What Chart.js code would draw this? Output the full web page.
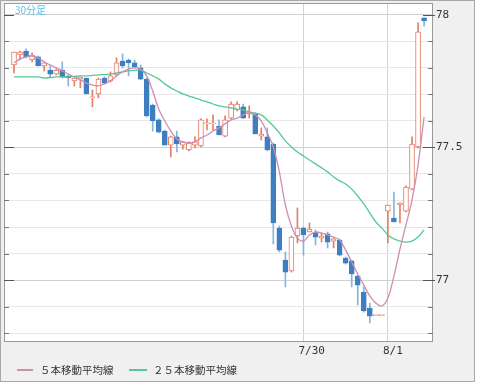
<!DOCTYPE html>
<html><head><meta charset="utf-8">
<script src="https://cdn.jsdelivr.net/npm/chart.js@4.4.0/dist/chart.umd.min.js"></script>
<style>html,body{margin:0;padding:0;background:#fff}canvas{display:block}</style>
</head><body>
<canvas id="c" width="478" height="384"></canvas>
<script>
// 30-minute candles (USD/JPY style), index 0..68
const openP = [77.811,77.849,77.864,77.830,77.842,77.808,77.792,77.777,77.792,77.770,
77.751,77.758,77.762,77.687,77.702,77.762,77.751,77.774,77.826,77.830,
77.819,77.800,77.758,77.660,77.604,77.562,77.509,77.540,77.509,77.491,
77.509,77.506,77.589,77.589,77.581,77.543,77.611,77.642,77.653,77.627,
77.627,77.543,77.540,77.513,77.196,77.075,77.034,77.166,77.196,77.181,
77.181,77.158,77.174,77.147,77.151,77.083,77.072,77.015,76.955,76.894,
76.866,76.866,77.260,77.234,77.283,77.260,77.343,77.502,77.989];
const highP = [77.860,77.864,77.872,77.857,77.845,77.819,77.811,77.796,77.823,77.770,
77.762,77.766,77.762,77.717,77.762,77.766,77.785,77.838,77.853,77.834,
77.830,77.811,77.762,77.664,77.608,77.566,77.543,77.562,77.521,77.521,
77.540,77.608,77.608,77.623,77.604,77.619,77.672,77.672,77.664,77.657,
77.630,77.574,77.574,77.517,77.204,77.106,77.166,77.272,77.200,77.215,
77.189,77.177,77.181,77.158,77.155,77.087,77.075,77.019,76.974,76.913,
76.866,76.866,77.283,77.332,77.291,77.355,77.540,77.970,77.989];
const lowP = [77.781,77.830,77.838,77.823,77.808,77.789,77.766,77.774,77.762,77.732,
77.732,77.725,77.702,77.653,77.687,77.740,77.747,77.770,77.800,77.770,
77.800,77.755,77.615,77.562,77.555,77.509,77.464,77.483,77.494,77.487,
77.498,77.502,77.566,77.566,77.547,77.540,77.608,77.638,77.611,77.611,
77.551,77.528,77.487,77.136,77.106,76.974,77.030,77.140,77.094,77.181,
77.132,77.143,77.121,77.121,77.091,77.060,76.974,76.906,76.879,76.838,
76.866,76.866,77.140,77.219,77.215,77.257,77.340,77.498,77.958];
const closeP = [77.860,77.860,77.842,77.849,77.808,77.819,77.777,77.792,77.766,77.762,
77.762,77.766,77.702,77.691,77.758,77.743,77.770,77.819,77.808,77.819,
77.804,77.758,77.619,77.600,77.558,77.509,77.540,77.513,77.521,77.517,
77.521,77.604,77.593,77.593,77.547,77.604,77.664,77.664,77.611,77.634,
77.551,77.551,77.491,77.215,77.113,77.030,77.162,77.196,77.170,77.192,
77.162,77.166,77.143,77.155,77.094,77.064,77.023,76.981,76.883,76.864,
76.866,76.866,77.283,77.219,77.291,77.351,77.513,77.936,77.977];
const ma5 = [77.819,77.834,77.842,77.845,77.838,77.823,77.811,77.800,77.789,77.777,
77.766,77.755,77.743,77.736,77.732,77.740,77.751,77.770,77.785,77.796,
77.800,77.796,77.770,77.713,77.645,77.600,77.562,77.532,77.521,77.517,
77.521,77.536,77.547,77.562,77.574,77.589,77.604,77.611,77.623,77.630,
77.623,77.600,77.555,77.502,77.408,77.283,77.204,77.158,77.147,77.170,
77.181,77.177,77.170,77.162,77.151,77.113,77.068,77.023,76.981,76.940,
76.913,76.902,76.932,77.015,77.117,77.208,77.302,77.434,77.615];
const ma25 = [77.766,77.766,77.766,77.766,77.766,77.762,77.764,77.766,77.766,77.766,
77.768,77.770,77.770,77.772,77.774,77.775,77.777,77.781,77.785,77.789,
77.791,77.792,77.781,77.770,77.758,77.740,77.725,77.713,77.702,77.694,
77.687,77.679,77.672,77.664,77.657,77.653,77.649,77.645,77.642,77.634,
77.630,77.623,77.604,77.581,77.555,77.525,77.502,77.483,77.468,77.453,
77.438,77.423,77.408,77.389,77.374,77.362,77.343,77.317,77.287,77.253,
77.219,77.196,77.170,77.155,77.147,77.143,77.147,77.162,77.189];
const xTickIndex = [48, 62];
const xTickLabels = ['7/30', '8/1'];
const yTickValues = [76.8,76.9,77.0,77.1,77.2,77.3,77.4,77.5,77.6,77.7,77.8,77.9,78.0];
const yLabelValues = [77, 77.5, 78];
const chartTitle = '30分足';
const seriesNames = ['５本移動平均線', '２５本移動平均線'];

const UP = '#e47e68', DOWN = '#3d7fc0', DOWN_WICK = '#86b4de';
const PINK = '#cf8db0', GREEN = '#55c995';
const idx = openP.map((_, i) => i);
const isUp = i => closeP[i] >= openP[i];
const isMajor = v => yLabelValues.some(m => Math.abs(m - v) < 1e-6);

const framePlugin = {
  id: 'frame',
  beforeDraw(chart) {
    const { ctx, chartArea: a } = chart;
    ctx.save();
    ctx.fillStyle = '#ffffff';
    ctx.fillRect(0, 0, chart.width, chart.height);
    ctx.fillStyle = '#f0f0f0';
    ctx.fillRect(0, 0, 475, 382);
    ctx.strokeStyle = '#a8a8a8';
    ctx.lineWidth = 1;
    ctx.strokeRect(0.5, 0.5, 474, 381);
    ctx.fillStyle = '#ffffff';
    ctx.fillRect(a.left, a.top, a.right - a.left, a.bottom - a.top);
    ctx.restore();
  },
  afterDraw(chart) {
    const { ctx, chartArea: a } = chart;
    const ys = chart.scales.y;
    ctx.save();
    ctx.strokeStyle = '#9a9a9a';
    ctx.lineWidth = 1;
    ctx.strokeRect(a.left + 0.5, a.top + 0.5, a.right - a.left - 1, a.bottom - a.top);
    yTickValues.forEach(v => {
      const py = Math.round(ys.getPixelForValue(v)) + 0.5;
      const m = isMajor(v);
      ctx.strokeStyle = m ? '#555' : '#777';
      ctx.beginPath();
      ctx.moveTo(a.left, py); ctx.lineTo(a.left + (m ? 10 : 5), py);
      ctx.moveTo(a.right - (m ? 10 : 5), py); ctx.lineTo(a.right + (m ? 2 : 0), py);
      ctx.stroke();
    });
    // title
    ctx.fillStyle = '#55c0ea';
    ctx.font = '10px "Noto Sans CJK JP"';
    ctx.textBaseline = 'top';
    ctx.textAlign = 'left';
    ctx.fillText(chartTitle, 15, 5);
    // legend
    const ly = 370;
    ctx.lineWidth = 2;
    ctx.strokeStyle = PINK;
    ctx.beginPath(); ctx.moveTo(17, ly); ctx.lineTo(33, ly); ctx.stroke();
    ctx.strokeStyle = GREEN;
    ctx.beginPath(); ctx.moveTo(129, ly); ctx.lineTo(147, ly); ctx.stroke();
    ctx.fillStyle = '#333';
    ctx.font = '10.5px "Noto Sans CJK JP"';
    ctx.textBaseline = 'middle';
    ctx.fillText(seriesNames[0], 40, ly);
    ctx.fillText(seriesNames[1], 153, ly);
    ctx.restore();
  }
};

new Chart(document.getElementById('c'), {
  type: 'bar',
  data: {
    datasets: [
      {
        type: 'line', label: seriesNames[0], order: 0,
        data: idx.map(i => ({ x: i, y: ma5[i] })),
        borderColor: PINK, borderWidth: 1.3, pointRadius: 0, tension: 0.35, fill: false
      },
      {
        type: 'line', label: seriesNames[1], order: 1,
        data: idx.map(i => ({ x: i, y: ma25[i] })),
        borderColor: GREEN, borderWidth: 1.3, pointRadius: 0, tension: 0.35, fill: false
      },
      {
        label: 'body', order: 2, grouped: false,
        data: idx.map(i => ({ x: i, y: [openP[i], closeP[i]] })),
        backgroundColor: idx.map(i => isUp(i) ? '#ffffff' : DOWN),
        borderColor: idx.map(i => isUp(i) ? UP : DOWN),
        borderWidth: 1, borderSkipped: false, barThickness: 5, minBarLength: 1
      },
      {
        label: 'wick', order: 3, grouped: false,
        data: idx.map(i => ({ x: i, y: [lowP[i], highP[i]] })),
        backgroundColor: idx.map(i => isUp(i) ? UP : DOWN_WICK),
        borderWidth: 0, barThickness: 1
      }
    ]
  },
  options: {
    responsive: false,
    animation: false,
    devicePixelRatio: 1,
    layout: { padding: { left: 4, top: 3, right: 0, bottom: 0 } },
    plugins: { legend: { display: false }, tooltip: { enabled: false } },
    scales: {
      x: {
        type: 'linear', offset: false, min: -1.66, max: 69.48,
        afterBuildTicks: s => { s.ticks = xTickIndex.map(v => ({ value: v })); },
        afterFit: s => { s.height = 43; s.paddingLeft = 0; s.paddingRight = 0; },
        grid: { color: '#d2d2d2', lineWidth: 1, drawTicks: false, offset: false },
        border: { display: false },
        ticks: {
          autoSkip: false, maxRotation: 0, align: 'start', labelOffset: -5, padding: 4,
          color: '#333', font: { family: 'DejaVu Sans Mono', size: 11 },
          callback: v => { const k = xTickIndex.indexOf(v); return k >= 0 ? xTickLabels[k] : ''; }
        }
      },
      y: {
        type: 'linear', position: 'right', min: 76.770, max: 78.045, beginAtZero: false,
        afterBuildTicks: s => { s.ticks = yTickValues.map(v => ({ value: v })); },
        afterFit: s => { s.width = 45; s.paddingTop = 0; s.paddingBottom = 0; },
        grid: {
          drawTicks: false, lineWidth: 1,
          color: c => (c.tick && isMajor(c.tick.value)) ? '#d0d0d0' : '#e8e8e8'
        },
        border: { display: false },
        ticks: {
          padding: 3, color: '#333', font: { family: 'DejaVu Sans Mono', size: 11 },
          callback: v => isMajor(v) ? String(+v.toFixed(1)) : ''
        }
      }
    }
  },
  plugins: [framePlugin]
});
</script>
</body></html>
